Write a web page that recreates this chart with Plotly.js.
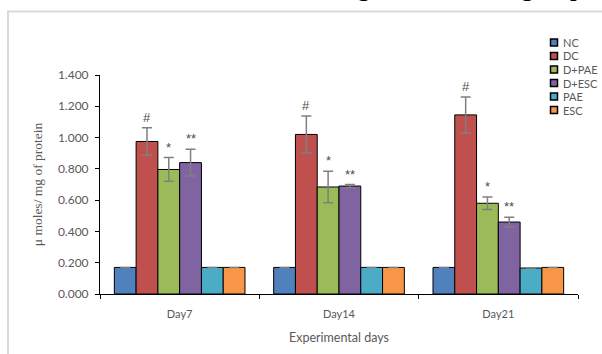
<!DOCTYPE html>
<html>
<head>
<meta charset="utf-8">
<script src="https://cdn.plot.ly/plotly-3.0.1.min.js"></script>
<style>html,body{margin:0;padding:0;background:#fff;}#chart{width:602px;height:354px;}</style>
</head>
<body>
<div id="chart"></div>
<script>
var days = ["Day7", "Day14", "Day21"];
var groups = ["NC", "DC", "D+PAE", "D+ESC", "PAE", "ESC"];
var colors = ["#4F81BD", "#C0504D", "#9BBB59", "#8064A2", "#4BACC6", "#F79646"];
var valNC   = [0.170, 0.170, 0.170];
var valDC   = [0.975, 1.020, 1.145];
var valPAE  = [0.796, 0.684, 0.580];
var valESC  = [0.840, 0.690, 0.460];
var valPAEo = [0.170, 0.170, 0.166];
var valESCo = [0.170, 0.170, 0.170];
var errNC   = [0, 0, 0];
var errDC   = [0.088, 0.118, 0.115];
var errPAE  = [0.076, 0.100, 0.040];
var errESC  = [0.086, 0.010, 0.030];
var errPAEo = [0, 0, 0];
var errESCo = [0, 0, 0];
var marksDC  = ["#", "#", "#"];
var marksPAE = ["*", "*", "*"];
var marksESC = ["**", "**", "**"];

var values = [valNC, valDC, valPAE, valESC, valPAEo, valESCo];
var errors = [errNC, errDC, errPAE, errESC, errPAEo, errESCo];
var marks = [null, marksDC, marksPAE, marksESC, null, null];

var L = 100, R = 24, T = 75, B = 60, W = 602, H = 354;
var pw = W - L - R, ph = H - T - B;
function px(x) { return (x - L) / pw; }
function py(y) { return (H - B - y) / ph; }

var bargap = 0.18;
var traces = groups.map(function (g, i) {
  return {
    type: "bar", name: g, x: days, y: values[i],
    marker: {color: colors[i], line: {color: "#000", width: 1}},
    error_y: {type: "data", array: errors[i], visible: true, color: "#7f7f7f", thickness: 1.5, width: 5},
    hoverinfo: "none", showlegend: false
  };
});

var annotations = [];
var shapes = [];
var w = (1 - bargap) / groups.length;
marks.forEach(function (m, i) {
  if (!m) return;
  for (var d = 0; d < days.length; d++) {
    annotations.push({
      xref: "x", yref: "y",
      x: d - (1 - bargap) / 2 + w * (i + 0.5),
      y: values[i][d] + errors[i][d],
      text: m[d], showarrow: false, yanchor: "bottom", yshift: 1,
      font: {family: "Liberation Sans", size: 13, color: "#4d4d4d"}
    });
  }
});

groups.forEach(function (g, i) {
  var cy = 42.5 + i * 13.5;
  shapes.push({
    type: "rect", xref: "paper", yref: "paper",
    x0: px(550.5), x1: px(557.5), y0: py(cy + 3.5), y1: py(cy - 3.5),
    fillcolor: colors[i], line: {color: "#000", width: 1.5}
  });
  annotations.push({
    xref: "paper", yref: "paper", x: px(561), y: py(cy),
    xanchor: "left", yanchor: "middle", text: g, showarrow: false,
    font: {family: "Lato", size: 11, color: "#595959"}
  });
});

annotations.push({
  xref: "paper", yref: "paper", x: px(343), y: py(3),
  xanchor: "left", yanchor: "bottom", text: "against diabetic group",
  showarrow: false, font: {family: "Liberation Serif", size: 27, color: "#000"}
});

shapes.push({
  type: "rect", xref: "paper", yref: "paper", layer: "below",
  x0: px(8), x1: px(700), y0: py(420), y1: py(11.5),
  line: {color: "#d9d9d9", width: 2}, fillcolor: "rgba(0,0,0,0)"
});

var layout = {
  width: W, height: H,
  margin: {l: L, r: R, t: T, b: B},
  paper_bgcolor: "#fff", plot_bgcolor: "#fff",
  barmode: "group", bargap: bargap, bargroupgap: 0,
  showlegend: false,
  xaxis: {
    type: "category", showline: true, linecolor: "#000", linewidth: 1,
    ticks: "outside", tickson: "boundaries", ticklen: 4, tickcolor: "#000",
    tickfont: {family: "Lato", size: 11, color: "#595959"}, ticklabelstandoff: 10,
    showgrid: false, zeroline: false,
    title: {text: "Experimental days", font: {family: "Lato", size: 12.5, color: "#595959"}, standoff: 14}
  },
  yaxis: {
    range: [0, 1.4], dtick: 0.2, tickformat: ".3f",
    showline: true, linecolor: "#000", linewidth: 1,
    ticks: "outside", ticklen: 4, tickcolor: "#000",
    tickfont: {family: "Lato", size: 12, color: "#595959"}, ticklabelstandoff: 4,
    showgrid: false, zeroline: false,
    title: {text: "μ moles/ mg of protein", font: {family: "Liberation Serif", size: 13.5, color: "#595959"}, standoff: 12}
  },
  annotations: annotations,
  shapes: shapes
};

Plotly.newPlot("chart", traces, layout, {displayModeBar: false, staticPlot: true});
</script>
</body>
</html>
